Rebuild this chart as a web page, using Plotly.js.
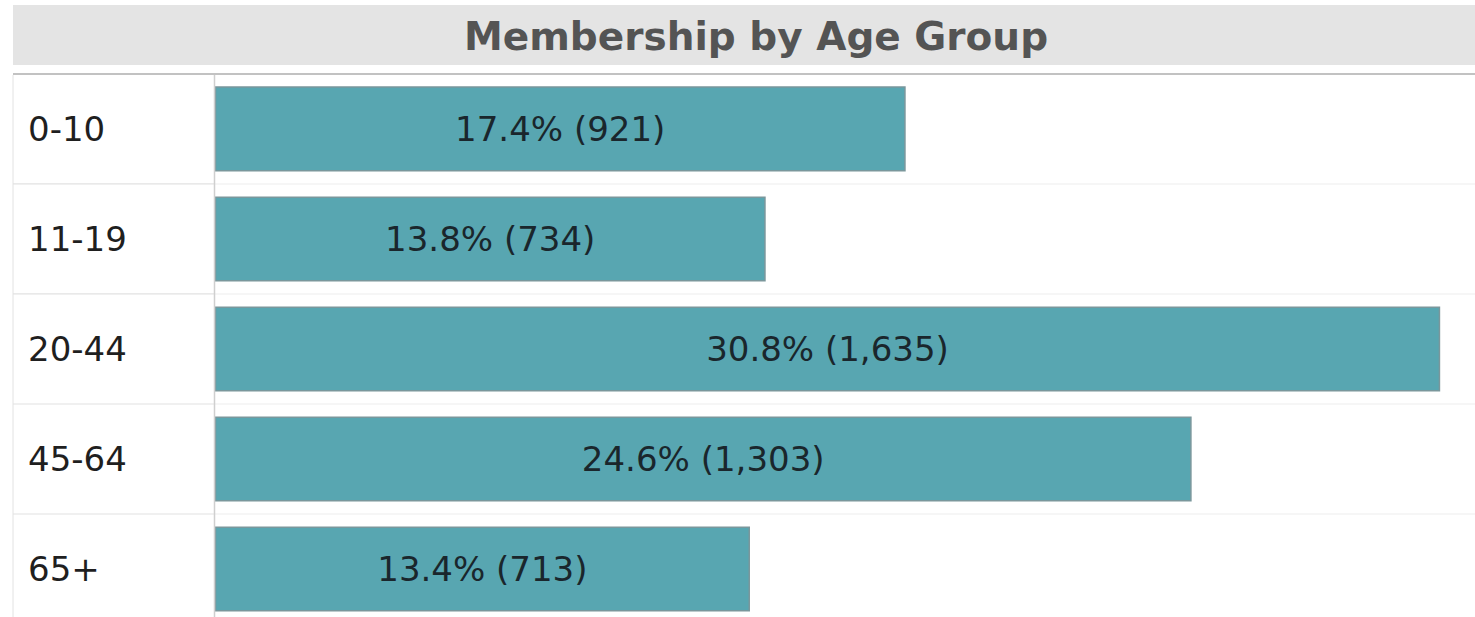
<!DOCTYPE html>
<html>
<head>
<meta charset="utf-8">
<script src="https://cdn.plot.ly/plotly-3.0.1.min.js"></script>
<style>
  html, body { margin: 0; padding: 0; background: #ffffff; }
  #chart { width: 1475px; height: 617px; }
</style>
</head>
<body>
<div id="chart"></div>
<script>
// ---- Data ----
const chartTitle = "Membership by Age Group";
const ageGroups = ["0-10", "11-19", "20-44", "45-64", "65+"];
const percents = [17.4, 13.8, 30.8, 24.6, 13.4];
const members = [921, 734, 1635, 1303, 713];

// ---- Layout helpers (pixel geometry) ----
const W = 1475, H = 617;
const mL = 214, mT = 75;
const plotW = W - mL, plotH = H - mT;
const px2paperX = p => (p - mL) / plotW;
const px2paperY = p => (H - p) / plotH;

const trace = {
  type: "bar",
  orientation: "h",
  y: ageGroups,
  x: members,
  customdata: percents,
  width: 0.76,
  marker: { color: "#58a6b1", line: { color: "#7a979c", width: 1.5 } },
  texttemplate: "%{customdata:.1f}% (%{x:,})",
  textposition: "inside",
  insidetextanchor: "middle",
  textangle: 0,
  textfont: { family: "DejaVu Sans, Verdana, sans-serif", size: 34, color: "#1a262c" },
  hoverinfo: "skip"
};

const shapes = [];
// title band
shapes.push({ type: "rect", xref: "paper", yref: "paper",
  x0: px2paperX(13), x1: 1, y0: px2paperY(65), y1: px2paperY(5),
  fillcolor: "#e4e4e4", line: { width: 0 }, layer: "below" });
// top separator line
shapes.push({ type: "line", xref: "paper", yref: "paper",
  x0: px2paperX(13), x1: 1, y0: px2paperY(74), y1: px2paperY(74),
  line: { color: "#c2c2c2", width: 2 } });
// left border of label column
shapes.push({ type: "line", xref: "paper", yref: "paper",
  x0: px2paperX(13), x1: px2paperX(13), y0: 0, y1: px2paperY(75),
  line: { color: "#e2e2e2", width: 1 } });
// divider between labels and bars
shapes.push({ type: "line", xref: "paper", yref: "paper",
  x0: px2paperX(214.5), x1: px2paperX(214.5), y0: 0, y1: px2paperY(75),
  line: { color: "#cfcfcf", width: 1.5 } });
// row dividers
for (let i = 0; i < ageGroups.length - 1; i++) {
  shapes.push({ type: "line", xref: "paper", yref: "y",
    x0: px2paperX(13), x1: 0, y0: i + 0.5, y1: i + 0.5,
    line: { color: "#e2e2e2", width: 1.2 }, layer: "below" });
  shapes.push({ type: "line", xref: "paper", yref: "y",
    x0: 0, x1: 1, y0: i + 0.5, y1: i + 0.5,
    line: { color: "#f3f3f3", width: 1.5 }, layer: "below" });
}

const annotations = ageGroups.map(g => ({
  xref: "paper", yref: "y",
  x: px2paperX(26), y: g,
  xanchor: "left", yanchor: "middle",
  text: g, showarrow: false,
  font: { family: "DejaVu Sans, Verdana, sans-serif", size: 34, color: "#1f1f1f" }
}));

const layout = {
  width: W, height: H,
  margin: { l: mL, r: 0, t: mT, b: 0, pad: 0 },
  paper_bgcolor: "#ffffff",
  plot_bgcolor: "#ffffff",
  showlegend: false,
  title: {
    text: chartTitle,
    xref: "container", yref: "container",
    x: 756 / W, xanchor: "center",
    y: 1 - 36 / H, yanchor: "middle",
    font: { family: "DejaVu Sans, Verdana, sans-serif", size: 39, color: "#545454", weight: 700 }
  },
  xaxis: {
    range: [-2, 1682.5],
    visible: false, showgrid: false, zeroline: false, fixedrange: true
  },
  yaxis: {
    type: "category",
    categoryorder: "array", categoryarray: ageGroups,
    range: [4.436, -0.49],
    showticklabels: false, showgrid: false, zeroline: false, showline: false,
    ticks: "", fixedrange: true
  },
  shapes: shapes,
  annotations: annotations,
  bargap: 0.24
};

Plotly.newPlot("chart", [trace], layout, { displayModeBar: false, staticPlot: true });
</script>
</body>
</html>
